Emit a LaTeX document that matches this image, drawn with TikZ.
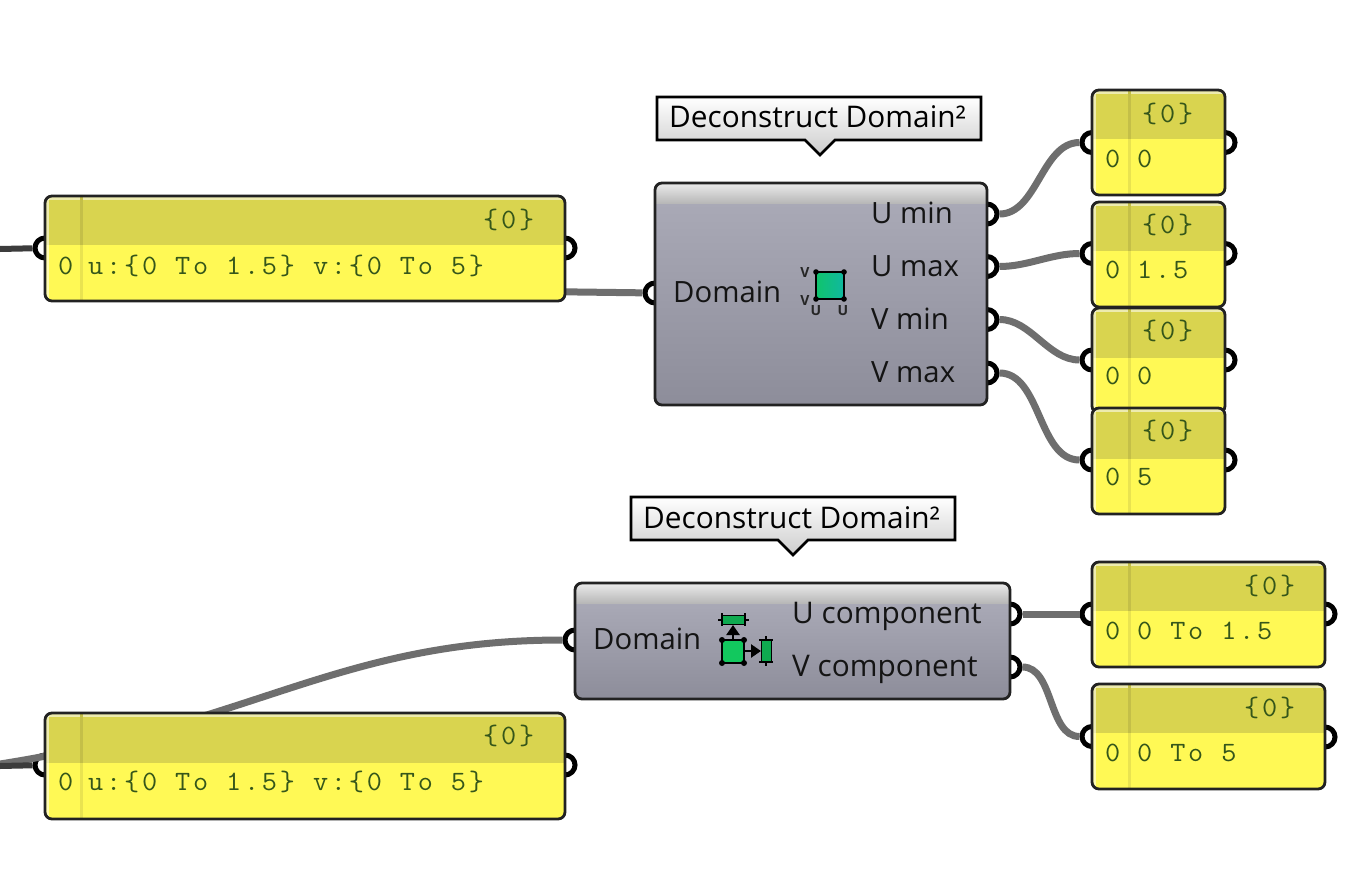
\documentclass[tikz,border=0pt]{standalone}
\usepackage{fontspec}
\setmainfont{Open Sans}
\newfontfamily\monof[FakeStretch=1.05,LetterSpace=10]{Latin Modern Mono}
\usetikzlibrary{arrows.meta,calc}
\definecolor{wirec}{HTML}{6E6E6E}
\definecolor{wired}{HTML}{3C3C3C}
\definecolor{headc}{HTML}{D9D44F}
\definecolor{bodyc}{HTML}{FFF955}
\definecolor{headdiv}{HTML}{C4BF48}
\definecolor{bodydiv}{HTML}{E9E350}
\definecolor{monoc}{HTML}{35561A}
\definecolor{linec}{HTML}{222222}
\definecolor{compa}{HTML}{A9A9B6}
\definecolor{compb}{HTML}{8D8D9A}
\definecolor{greena}{HTML}{10C46C}
\definecolor{greenb}{HTML}{10B8A0}
\definecolor{greenc}{HTML}{12C85E}
\tikzset{
  grip/.style={circle,draw=black,line width=5pt,fill=white,minimum size=20pt,inner sep=0pt},
  wire/.style={draw=wirec,line width=7pt},
  darkwire/.style={draw=wired,line width=6pt},
  panelbox/.style={rectangle,draw=linec,line width=2.8pt,rounded corners=7pt,inner sep=0pt},
  compbox/.style={rectangle,draw=linec,line width=2.8pt,rounded corners=7pt,inner sep=0pt},
  monot/.style={anchor=base west,inner sep=0pt,text=monoc,font=\fontsize{28}{30}\monof},
  labelt/.style={anchor=base west,inner sep=0pt,text=black!92,font=\fontsize{29.3}{32}\selectfont},
  labeltw/.style={anchor=base west,inner sep=0pt,text=black!92,font=\fontsize{29.8}{32}\selectfont},
  tipt/.style={anchor=base west,inner sep=0pt,text=black,font=\fontsize{29.8}{32}\selectfont},
  tipbox/.style={draw=black,line width=2.6pt,top color=white,bottom color=black!20,line join=miter},
  iconl/.style={inner sep=0pt,text=black!85,font=\fontsize{14}{14}\selectfont\bfseries},
  iconl2/.style={draw=black,line width=2.6pt},
  iconarr/.style={draw=black,line width=2.8pt,-{Triangle[length=10pt,width=13pt]}}
}
% name, x1, y1, x2, y2, split, xdiv
\newcommand{\panelnode}[7]{%
  \begin{scope}
    \clip[rounded corners=7pt] (#2,#3) rectangle (#4,#5);
    \fill[bodyc] (#2,#3) rectangle (#4,#5);
    \fill[headc] (#2,#3) rectangle (#4,#6);
    \fill[white,opacity=.55] (#2,#3) rectangle (#4,#3+4);
    \fill[white,opacity=.55] (#2,#3) rectangle (#2+4,#5);
    \fill[headdiv] (#7-1.5,#3) rectangle (#7+1.5,#6);
    \fill[bodydiv] (#7-1.5,#6) rectangle (#7+1.5,#5);
  \end{scope}
  \pgfmathsetmacro{\pw}{#4-#2}\pgfmathsetmacro{\ph}{#5-#3}%
  \node[panelbox,minimum width=\pw pt,minimum height=\ph pt] (#1) at ({(#2+#4)/2},{(#3+#5)/2}) {};%
}
% name, x1, y1, x2, y2, header bottom
\newcommand{\compnode}[6]{%
  \begin{scope}
    \clip[rounded corners=7pt] (#2,#3) rectangle (#4,#5);
    \shade[top color=compa,bottom color=compb] (#2,#6) rectangle (#4,#5);
    \shade[top color=white!92!black,bottom color=white!72!black] (#2,#3) rectangle (#4,#6);
  \end{scope}
  \pgfmathsetmacro{\pw}{#4-#2}\pgfmathsetmacro{\ph}{#5-#3}%
  \node[compbox,minimum width=\pw pt,minimum height=\ph pt] (#1) at ({(#2+#4)/2},{(#3+#5)/2}) {};%
}
\begin{document}
\begin{tikzpicture}[x=1pt,y=-1pt]
\useasboundingbox (0,0) rectangle (1372,872);
\fill[white] (0,0) rectangle (1372,872);

% off-picture wire ends and the wire's hidden source
\coordinate (srcA) at (0,249);
\coordinate (srcB) at (0,766);
\coordinate (srcC) at (0,764);
\coordinate (srcD) at (500,291);

% grips
\node[grip] (aIn) at (45,248) {};
\node[grip] (aOut) at (565,248) {};
\node[grip] (bIn) at (45,765) {};
\node[grip] (bOut) at (565,765) {};
\node[grip] (dIn) at (655,293) {};
\node[grip] (uminG) at (987,214) {};
\node[grip] (umaxG) at (987,266.5) {};
\node[grip] (vminG) at (987,319.5) {};
\node[grip] (vmaxG) at (987,373) {};
\node[grip] (sIn1) at (1092,142.5) {};
\node[grip] (sOut1) at (1225,142.5) {};
\node[grip] (sIn2) at (1092,253.5) {};
\node[grip] (sOut2) at (1225,253.5) {};
\node[grip] (sIn3) at (1092,360) {};
\node[grip] (sOut3) at (1225,360) {};
\node[grip] (sIn4) at (1092,460) {};
\node[grip] (sOut4) at (1225,460) {};
\node[grip] (eIn) at (575,640) {};
\node[grip] (uG) at (1010,614) {};
\node[grip] (vG) at (1010,667) {};
\node[grip] (rIn1) at (1092,614) {};
\node[grip] (rOut1) at (1325,614) {};
\node[grip] (rIn2) at (1092,736.5) {};
\node[grip] (rOut2) at (1325,737) {};

% wires
\draw[darkwire] (srcA) -- (aIn);
\draw[wire] (srcD) -- (dIn);
\draw[wire] (srcC) .. controls (255,724) and (340,640) .. (eIn.west);
\draw[darkwire] (srcB) -- (bIn);
\draw[wire] (uminG) to[out=0,in=180,looseness=.9] (sIn1);
\draw[wire] (umaxG) to[out=0,in=180,looseness=.9] (sIn2);
\draw[wire] (vminG) to[out=0,in=180,looseness=.9] (sIn3);
\draw[wire] (vmaxG) to[out=0,in=180,looseness=.9] (sIn4);
\draw[wire] (uG) -- (rIn1);
\draw[wire] (vG) to[out=0,in=180,looseness=.9] (rIn2);

% panels
\panelnode{panelA}{45}{196}{565}{301}{245}{81}
\panelnode{panelB}{45}{713}{565}{819}{763}{81}
\panelnode{s1}{1092}{90}{1225}{195}{139}{1129}
\panelnode{s2}{1092}{202}{1225}{307}{251}{1129}
\panelnode{s3}{1092}{308}{1225}{413}{358}{1129}
\panelnode{s4}{1092}{408}{1225}{514}{459}{1129}
\panelnode{r1}{1092}{562}{1325}{667}{611}{1129}
\panelnode{r2}{1092}{684}{1325}{789}{733}{1129}

% panel texts
\node[monot] (ta0) at (58,274) {0};
\node[monot] (ta) at (88,274) {u:\{0 To 1.5\} v:\{0 To 5\}};
\node[monot] (tah) at (483,228) {\{0\}};
\node[monot] (tb0) at (58,790) {0};
\node[monot] (tb) at (88,790) {u:\{0 To 1.5\} v:\{0 To 5\}};
\node[monot] (tbh) at (483,744) {\{0\}};
\node[monot] (t10) at (1105,167) {0};
\node[monot] (t1) at (1137,167) {0};
\node[monot] (t1h) at (1142,122) {\{0\}};
\node[monot] (t20) at (1105,278) {0};
\node[monot] (t2) at (1137,278) {1.5};
\node[monot] (t2h) at (1142,233) {\{0\}};
\node[monot] (t30) at (1105,384) {0};
\node[monot] (t3) at (1137,384) {0};
\node[monot] (t3h) at (1142,339) {\{0\}};
\node[monot] (t40) at (1105,485) {0};
\node[monot] (t4) at (1137,485) {5};
\node[monot] (t4h) at (1142,439) {\{0\}};
\node[monot] (r10) at (1105,639) {0};
\node[monot] (r1t) at (1137,639) {0 To 1.5};
\node[monot] (r1h) at (1244,594) {\{0\}};
\node[monot] (r20) at (1105,761) {0};
\node[monot] (r2t) at (1137,761) {0 To 5};
\node[monot] (r2h) at (1244,716) {\{0\}};

% components
\compnode{compD}{655}{183}{987}{405}{203}
\compnode{compE}{575}{583}{1010}{699}{603}

\node[labelt] (lDom) at (673,302) {Domain};
\node[labelt] (lUmin) at (871,223) {U min};
\node[labelt] (lUmax) at (871,276) {U max};
\node[labelt] (lVmin) at (871,329) {V min};
\node[labelt] (lVmax) at (871,382) {V max};
\node[labelt] (lDom2) at (593,649) {Domain};
\node[labeltw] (lUc) at (792,623) {U component};
\node[labeltw] (lVc) at (792,676) {V component};

% tooltips
\draw[tipbox] (657,97) -- (981,97) -- (981,140) -- (835,140) -- (820,155) -- (805,140) -- (657,140) -- cycle;
\node[tipt] (tip1) at (669,128) {Deconstruct Domain²};
\draw[tipbox] (631,497) -- (955,497) -- (955,540) -- (808,540) -- (793,555) -- (778,540) -- (631,540) -- cycle;
\node[tipt] (tip2) at (643,528) {Deconstruct Domain²};

% icon 1
\shade[draw=black,line width=2.6pt,left color=greena,right color=greenb] (816,272) rectangle (844,299);
\foreach \p in {(816,272),(844,272),(816,299),(844,299)} \fill[black] \p circle (2.8pt);
\node[iconl] (iv1) at (805,273) {V};
\node[iconl] (iv2) at (805,300) {V};
\node[iconl] (iu1) at (816,311) {U};
\node[iconl] (iu2) at (843,311) {U};

% icon 2
\draw[iconarr] (733,641) -- (733,625);
\draw[iconarr] (744,651) -- (761,651);
\draw[iconl2,fill=greenc] (722,640) rectangle (744,663);
\foreach \p in {(722,640),(744,640),(722,663),(744,663)} \fill[black] \p circle (3pt);
\fill[greenc!85!black] (722,615) rectangle (745,624);
\draw[black,line width=1pt] (722,615) -- (745,615) (722,624) -- (745,624);
\draw[iconl2] (722,613) -- (722,626) (745,613) -- (745,626) (718,620) -- (722,620) (745,620) -- (749,620);
\fill[greenc!85!black] (761,640) rectangle (771,662);
\draw[black,line width=1pt] (761,640) -- (761,662) (771,640) -- (771,662);
\draw[iconl2] (759,640) -- (773,640) (759,662) -- (773,662) (766,636) -- (766,640) (766,662) -- (766,666);
\end{tikzpicture}
\end{document}
